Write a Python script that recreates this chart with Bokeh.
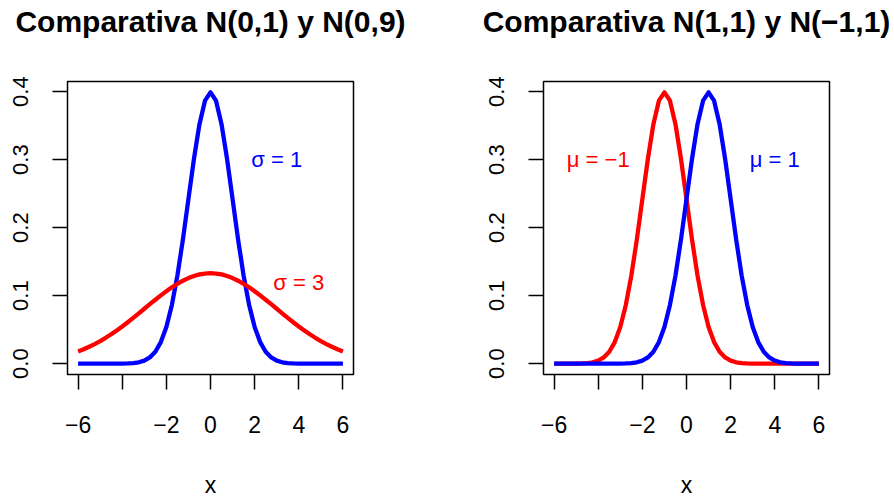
from bokeh.plotting import figure
from bokeh.layouts import row
from bokeh.models import Range1d, FixedTicker, NumeralTickFormatter, ColumnDataSource, Title
from bokeh.core.properties import value
from bokeh.embed import file_html
from bokeh.resources import INLINE

# ---- data ----
x_vals = [-6, -5.75, -5.5, -5.25, -5, -4.75, -4.5, -4.25, -4, -3.75, -3.5, -3.25,
          -3, -2.75, -2.5, -2.25, -2, -1.75, -1.5, -1.25, -1, -0.75, -0.5, -0.25,
          0, 0.25, 0.5, 0.75, 1, 1.25, 1.5, 1.75, 2, 2.25, 2.5, 2.75, 3, 3.25,
          3.5, 3.75, 4, 4.25, 4.5, 4.75, 5, 5.25, 5.5, 5.75, 6]

dens_sd1 = [0.0, 0.0, 0.0, 0.0, 0.0, 0.0, 0.0, 0.0001, 0.0001, 0.0004, 0.0009, 0.0020,
            0.0044, 0.0091, 0.0175, 0.0317, 0.0540, 0.0863, 0.1295, 0.1826, 0.2420,
            0.3011, 0.3521, 0.3867, 0.3989, 0.3867, 0.3521, 0.3011, 0.2420, 0.1826,
            0.1295, 0.0863, 0.0540, 0.0317, 0.0175, 0.0091, 0.0044, 0.0020, 0.0009,
            0.0004, 0.0001, 0.0001, 0.0, 0.0, 0.0, 0.0, 0.0, 0.0, 0.0]

dens_sd3 = [0.0180, 0.0212, 0.0248, 0.0288, 0.0332, 0.0380, 0.0432, 0.0488, 0.0547,
            0.0609, 0.0673, 0.0740, 0.0807, 0.0874, 0.0940, 0.1004, 0.1065, 0.1122,
            0.1174, 0.1219, 0.1258, 0.1289, 0.1312, 0.1325, 0.1330, 0.1325, 0.1312,
            0.1289, 0.1258, 0.1219, 0.1174, 0.1122, 0.1065, 0.1004, 0.0940, 0.0874,
            0.0807, 0.0740, 0.0673, 0.0609, 0.0547, 0.0488, 0.0432, 0.0380, 0.0332,
            0.0288, 0.0248, 0.0212, 0.0180]

dens_mu1 = [0.0, 0.0, 0.0, 0.0, 0.0, 0.0, 0.0, 0.0, 0.0, 0.0, 0.0,
            0.0001, 0.0001, 0.0004, 0.0009, 0.0020, 0.0044, 0.0091, 0.0175, 0.0317,
            0.0540, 0.0863, 0.1295, 0.1826, 0.2420, 0.3011, 0.3521, 0.3867, 0.3989,
            0.3867, 0.3521, 0.3011, 0.2420, 0.1826, 0.1295, 0.0863, 0.0540, 0.0317,
            0.0175, 0.0091, 0.0044, 0.0020, 0.0009, 0.0004, 0.0001, 0.0001,
            0.0, 0.0, 0.0]

dens_mum1 = [0.0, 0.0, 0.0,
             0.0001, 0.0001, 0.0004, 0.0009, 0.0020, 0.0044, 0.0091, 0.0175, 0.0317,
             0.0540, 0.0863, 0.1295, 0.1826, 0.2420, 0.3011, 0.3521, 0.3867, 0.3989,
             0.3867, 0.3521, 0.3011, 0.2420, 0.1826, 0.1295, 0.0863, 0.0540, 0.0317,
             0.0175, 0.0091, 0.0044, 0.0020, 0.0009, 0.0004, 0.0001, 0.0001,
             0.0, 0.0, 0.0, 0.0, 0.0, 0.0, 0.0, 0.0, 0.0, 0.0, 0.0]

x_ticks = [-6, -4, -2, 0, 2, 4, 6]
x_tick_labels = ["\u22126", "", "\u22122", "0", "2", "4", "6"]
y_ticks = [0.0, 0.1, 0.2, 0.3, 0.4]

titles = ["Comparativa N(0,1) y N(0,9)", "Comparativa N(1,1) y N(\u22121,1)"]
left_notes = ["\u03c3 = 1", "\u03c3 = 3"]
left_note_x = [3, 4]
left_note_y = [0.3, 0.12]
right_notes = ["\u03bc = \u22121", "\u03bc = 1"]
right_note_x = [-4, 4]
right_note_y = [0.3, 0.3]

FONT = "Liberation Sans"
BLUE = "#0000FF"
RED = "#FF0000"

ymax = max(dens_sd1)
ypad = 0.04 * ymax


def make_panel(title, bl, br):
    p = figure(width=447, height=500,
               x_range=Range1d(-6.48, 6.48),
               y_range=Range1d(-ypad, ymax + ypad),
               output_backend="svg", toolbar_location=None,
               min_border_left=bl, min_border_right=br,
               min_border_top=81, min_border_bottom=123)
    # inner spacer keeps the title well above the box, as in R
    p.add_layout(Title(text=" ", text_font_size="10px", standoff=31), "above")
    p.add_layout(Title(text=title, text_font=FONT, text_font_size="30px",
                       text_font_style="bold", text_color="black",
                       align="center", standoff=0), "above")
    p.xgrid.grid_line_color = None
    p.ygrid.grid_line_color = None
    p.outline_line_color = "black"
    p.outline_line_width = 1.5
    p.background_fill_color = "white"
    p.border_fill_color = "white"
    for ax in (p.xaxis[0], p.yaxis[0]):
        ax.axis_line_color = None
        ax.major_tick_out = 15
        ax.major_tick_in = 0
        ax.minor_tick_out = 0
        ax.minor_tick_in = 0
        ax.major_tick_line_width = 1.5
        ax.major_tick_line_color = "black"
        ax.major_label_text_font = FONT
        ax.major_label_text_color = "black"
    p.xaxis.major_label_text_font_size = "23px"
    p.yaxis.major_label_text_font_size = "22px"
    p.xaxis.ticker = FixedTicker(ticks=x_ticks)
    p.xaxis.major_label_overrides = dict(zip(x_ticks, x_tick_labels))
    p.xaxis.major_label_standoff = 26
    p.xaxis.axis_label = "x"
    p.xaxis.axis_label_text_font = FONT
    p.xaxis.axis_label_text_font_size = "23px"
    p.xaxis.axis_label_text_font_style = "normal"
    p.xaxis.axis_label_text_color = "black"
    p.xaxis.axis_label_standoff = 36
    p.yaxis.ticker = FixedTicker(ticks=y_ticks)
    p.yaxis.formatter = NumeralTickFormatter(format="0.0")
    p.yaxis.major_label_orientation = "vertical"
    p.yaxis.major_label_standoff = 24
    return p


p1 = make_panel(titles[0], 67, 94)
p1.line(x_vals, dens_sd1, line_color=BLUE, line_width=4.3, line_join="round")
p1.line(x_vals, dens_sd3, line_color=RED, line_width=4.3, line_join="round")
src1 = ColumnDataSource(dict(x=left_note_x, y=left_note_y, t=left_notes, c=[BLUE, RED]))
p1.text(x="x", y="y", text="t", text_color="c", source=src1, text_font=value(FONT),
        text_font_size="22px", text_align="center", text_baseline="middle")

p2 = make_panel(titles[1], 96, 65)
p2.line(x_vals, dens_mum1, line_color=RED, line_width=4.3, line_join="round")
p2.line(x_vals, dens_mu1, line_color=BLUE, line_width=4.3, line_join="round")
src2 = ColumnDataSource(dict(x=right_note_x, y=right_note_y, t=right_notes, c=[RED, BLUE]))
p2.text(x="x", y="y", text="t", text_color="c", source=src2, text_font=value(FONT),
        text_font_size="22px", text_align="center", text_baseline="middle")

layout = row(p1, p2)
open("out.html", "w").write(file_html(layout, INLINE))
